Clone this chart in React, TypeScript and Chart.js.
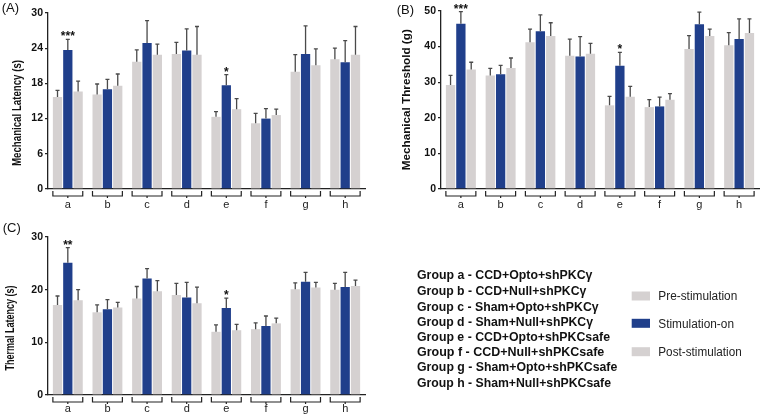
import React, { useEffect, useRef } from 'react';
import { Chart, registerables } from 'chart.js';
Chart.register(...registerables);

const FONT = '"Liberation Sans", Arial, Helvetica, sans-serif';
Chart.defaults.font.family = FONT;

const groups = ['a', 'b', 'c', 'd', 'e', 'f', 'g', 'h'];
const seriesNames = ['Pre-stimulation', 'Stimulation-on', 'Post-stimulation'];
const groupLegend = [
  'Group a - CCD+Opto+shPKCγ',
  'Group b - CCD+Null+shPKCγ',
  'Group c - Sham+Opto+shPKCγ',
  'Group d - Sham+Null+shPKCγ',
  'Group e - CCD+Opto+shPKCsafe',
  'Group f  - CCD+Null+shPKCsafe',
  'Group g - Sham+Opto+shPKCsafe',
  'Group h - Sham+Null+shPKCsafe',
];

// Panel A: Mechanical Latency (s)
const preA = [15.7, 16.1, 21.7, 23.0, 12.3, 11.2, 20.0, 22.1];
const preAErr = [1.1, 1.8, 2.0, 2.0, 0.9, 1.7, 2.9, 1.9];
const stimA = [23.7, 17.0, 24.9, 23.6, 17.7, 12.0, 23.0, 21.6];
const stimAErr = [1.8, 1.7, 3.8, 3.7, 1.8, 1.7, 4.8, 3.7];
const postA = [16.6, 17.6, 22.9, 22.9, 13.6, 12.6, 21.1, 22.9];
const postAErr = [1.8, 2.0, 1.8, 4.8, 1.8, 1.0, 2.8, 4.8];
const sigA = ['***', '', '', '', '*', '', '', ''];

// Panel B: Mechanical Threshold (g)
const preB = [29.2, 31.9, 41.2, 37.4, 23.5, 23.0, 39.3, 40.4];
const preBErr = [2.7, 2.0, 3.7, 4.7, 2.5, 2.1, 3.8, 3.5];
const stimB = [46.4, 32.2, 44.3, 37.2, 34.6, 23.2, 46.3, 42.1];
const stimBErr = [3.4, 2.5, 4.6, 5.6, 3.8, 2.6, 3.4, 5.7];
const postB = [33.6, 34.0, 43.0, 38.0, 25.9, 25.1, 43.0, 43.8];
const postBErr = [2.0, 2.8, 3.7, 2.9, 2.9, 1.7, 1.9, 4.0];
const sigB = ['***', '', '', '', '*', '', '', ''];

// Panel C: Thermal Latency (s)
const preC = [17.1, 15.7, 18.3, 19.0, 12.0, 12.5, 20.1, 20.0];
const preCErr = [1.7, 1.4, 2.3, 2.2, 1.3, 1.2, 1.2, 1.2];
const stimC = [25.1, 16.3, 22.1, 18.5, 16.5, 13.1, 21.5, 20.5];
const stimCErr = [2.9, 1.8, 1.9, 2.9, 1.9, 1.9, 1.8, 2.8];
const postC = [18.0, 16.6, 19.7, 17.4, 12.3, 13.6, 20.4, 20.7];
const postCErr = [2.0, 1.0, 2.0, 3.1, 1.1, 1.0, 1.0, 1.1];
const sigC = ['**', '', '', '', '*', '', '', ''];

const GRAY = '#d5d1d1';
const BLUE = '#203f8b';
const AXIS = '#222222';
const ERR = '#4a4a4a';

type PanelProps = {
  pre: number[]; preErr: number[]; stim: number[]; stimErr: number[]; post: number[]; postErr: number[];
  sig: string[]; yMax: number; yStep: number;
  left: number; top: number; width: number; height: number;
  padTop: number; padRight: number; yWidth: number; xHeight: number; labelPad: number;
};

function Panel(p: PanelProps) {
  const ref = useRef<HTMLCanvasElement | null>(null);
  useEffect(() => {
    if (!ref.current) return;
    const errs = [p.preErr, p.stimErr, p.postErr];
    const overlay = {
      id: 'overlay',
      afterDatasetsDraw(chart: any) {
        const ctx = chart.ctx;
        const y = chart.scales.y;
        const area = chart.chartArea;
        ctx.save();
        ctx.strokeStyle = ERR;
        ctx.lineWidth = 1.3;
        chart.data.datasets.forEach((ds: any, di: number) => {
          const meta = chart.getDatasetMeta(di);
          meta.data.forEach((el: any, i: number) => {
            const top = y.getPixelForValue(ds.data[i] + errs[di][i]);
            ctx.beginPath();
            ctx.moveTo(el.x, el.y);
            ctx.lineTo(el.x, top);
            ctx.moveTo(el.x - 2, top);
            ctx.lineTo(el.x + 2, top);
            ctx.stroke();
          });
        });
        ctx.fillStyle = '#111';
        ctx.font = 'bold 12px ' + FONT;
        ctx.textAlign = 'center';
        ctx.textBaseline = 'alphabetic';
        const sm = chart.getDatasetMeta(1);
        p.sig.forEach((s, i) => {
          if (!s) return;
          const el = sm.data[i];
          const top = y.getPixelForValue(p.stim[i] + p.stimErr[i]);
          ctx.fillText(s, el.x, top + 1);
        });
        const m0 = chart.getDatasetMeta(0);
        const m2 = chart.getDatasetMeta(2);
        ctx.strokeStyle = AXIS;
        ctx.lineWidth = 1.2;
        const b = area.bottom;
        for (let i = 0; i < m0.data.length; i++) {
          const l = m0.data[i].x - m0.data[i].width / 2;
          const r = m2.data[i].x + m2.data[i].width / 2;
          const c = (l + r) / 2;
          ctx.beginPath();
          ctx.moveTo(l, b + 2);
          ctx.lineTo(l, b + 7);
          ctx.lineTo(r, b + 7);
          ctx.lineTo(r, b + 2);
          ctx.moveTo(c, b + 7);
          ctx.lineTo(c, b + 9);
          ctx.stroke();
        }
        ctx.restore();
      },
    };
    const barOpts = { categoryPercentage: 0.78, barPercentage: 0.9, borderWidth: 0 };
    const chart = new Chart(ref.current, {
      type: 'bar',
      data: {
        labels: groups,
        datasets: [
          { label: seriesNames[0], data: p.pre, backgroundColor: GRAY, ...barOpts },
          { label: seriesNames[1], data: p.stim, backgroundColor: BLUE, ...barOpts },
          { label: seriesNames[2], data: p.post, backgroundColor: GRAY, ...barOpts },
        ],
      },
      options: {
        animation: false,
        responsive: false,
        maintainAspectRatio: false,
        events: [],
        layout: { padding: { top: p.padTop, right: p.padRight, left: 0, bottom: 0 } },
        plugins: { legend: { display: false }, tooltip: { enabled: false } },
        scales: {
          x: {
            grid: { display: false, drawTicks: false },
            border: { display: true, color: AXIS, width: 1.3 },
            ticks: { padding: p.labelPad, color: '#222', font: { size: 11 } },
            afterFit: (s: any) => { s.height = p.xHeight; },
          },
          y: {
            min: 0,
            max: p.yMax,
            ticks: { stepSize: p.yStep, color: '#111', font: { size: 10.5, weight: 'bold' }, padding: 2 },
            grid: { drawOnChartArea: false, drawTicks: true, tickLength: 3, color: AXIS, lineWidth: 1.3 },
            border: { display: true, color: AXIS, width: 1.3 },
            afterFit: (s: any) => { s.width = p.yWidth; },
          },
        },
      } as any,
      plugins: [overlay],
    });
    return () => chart.destroy();
  }, []);
  return (
    <canvas
      ref={ref}
      width={p.width}
      height={p.height}
      style={{ position: 'absolute', left: p.left, top: p.top, width: p.width, height: p.height }}
    />
  );
}

function VTitle({ cx, cy, len, size, text }: { cx: number; cy: number; len: number; size: number; text: string }) {
  return (
    <text
      transform={`translate(${cx},${cy}) rotate(-90)`}
      textAnchor="middle"
      dominantBaseline="central"
      textLength={len}
      lengthAdjust="spacingAndGlyphs"
      fontFamily={FONT}
      fontWeight="bold"
      fontSize={size}
      fill="#111"
    >
      {text}
    </text>
  );
}

const legendLineY = [274.3, 290.3, 306, 321.3, 336, 351.3, 366.7, 382.7];
const legendLineLen = [175.4, 169.3, 181.6, 176, 193, 187.3, 200.3, 194];
const swatchY = [296, 323.3, 351.7];
const swatchLen = [79, 75.7, 83.4];
const swatchColors = [GRAY, BLUE, GRAY];

export default function App() {
  return (
    <div style={{ position: 'fixed', left: 0, top: 0, width: 760, height: 418, background: '#fff', overflow: 'hidden' }}>
      <Panel pre={preA} preErr={preAErr} stim={stimA} stimErr={stimAErr} post={postA} postErr={postAErr} sig={sigA}
        yMax={30} yStep={6} left={0} top={0} width={380} height={212}
        padTop={13} padRight={15} yWidth={48} xHeight={23} labelPad={9} />
      <Panel pre={preB} preErr={preBErr} stim={stimB} stimErr={stimBErr} post={postB} postErr={postBErr} sig={sigB}
        yMax={50} yStep={10} left={380} top={0} width={380} height={212}
        padTop={11} padRight={1} yWidth={61} xHeight={23} labelPad={9} />
      <Panel pre={preC} preErr={preCErr} stim={stimC} stimErr={stimCErr} post={postC} postErr={postCErr} sig={sigC}
        yMax={30} yStep={10} left={0} top={215} width={380} height={203}
        padTop={22} padRight={15} yWidth={48} xHeight={23} labelPad={7} />
      <svg width={760} height={418} style={{ position: 'absolute', left: 0, top: 0, pointerEvents: 'none' }}>
        <text x={1.7} y={12} fontFamily={FONT} fontSize={13} fill="#111">(A)</text>
        <text x={396.7} y={13.5} fontFamily={FONT} fontSize={13} fill="#111">(B)</text>
        <text x={2.7} y={232} fontFamily={FONT} fontSize={13} fill="#111">(C)</text>
        <VTitle cx={16.5} cy={113} len={106} size={13} text="Mechanical Latency (s)" />
        <VTitle cx={405.5} cy={99.7} len={141} size={11.5} text="Mechanical Threshold (g)" />
        <VTitle cx={9.7} cy={328} len={85} size={12.5} text="Thermal Latency (s)" />
        {groupLegend.map((t, i) => (
          <text key={t} x={417} y={legendLineY[i] + 4.5} textLength={legendLineLen[i]} lengthAdjust="spacingAndGlyphs"
            fontFamily={FONT} fontWeight="bold" fontSize={12.5} fill="#111">{t}</text>
        ))}
        {seriesNames.map((t, i) => (
          <g key={t}>
            <rect x={631.7} y={swatchY[i] - 4.5} width={18.3} height={9} fill={swatchColors[i]} />
            <text x={658.3} y={swatchY[i] + 4.3} textLength={swatchLen[i]} lengthAdjust="spacingAndGlyphs"
              fontFamily={FONT} fontSize={12} fill="#222">{t}</text>
          </g>
        ))}
      </svg>
    </div>
  );
}
